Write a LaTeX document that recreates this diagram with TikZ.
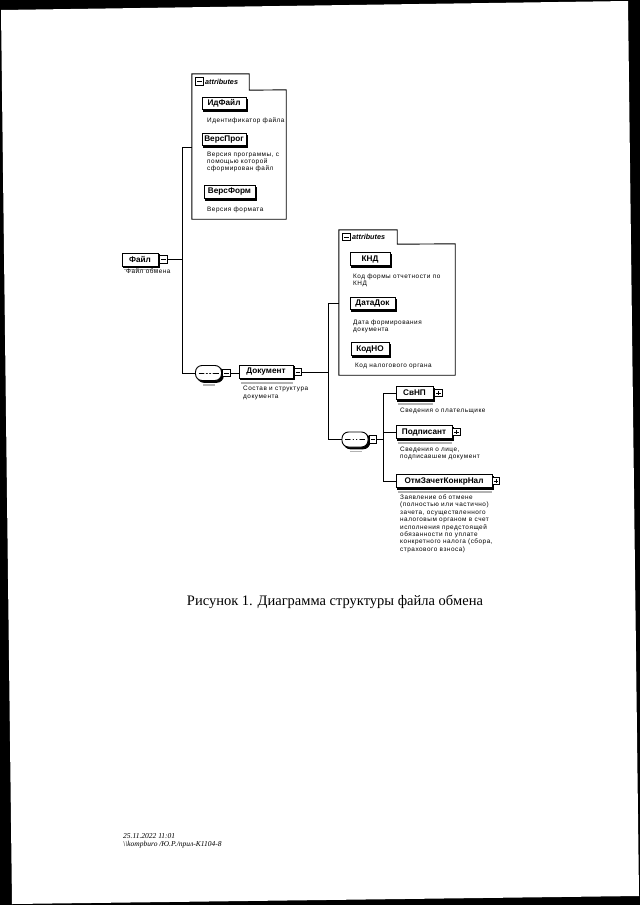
\documentclass[tikz,border=0pt]{standalone}
\usepackage{fontspec}
\setmainfont{Liberation Serif}
\setsansfont{Liberation Sans}
\newcommand\dfont{\sffamily\fontsize{6.4}{7.4}\selectfont\addfontfeature{LetterSpace=8}}
\begin{document}
\begin{tikzpicture}[x=1pt,y=-1pt,
  shad/.style={preaction={draw=black,fill=black,line width=0.9pt,transform canvas={xshift=1.8pt,yshift=-1.8pt}}},
  el/.style={draw,line width=0.9pt,fill=white,shad,inner sep=0pt,minimum height=13pt,
    font=\sffamily\bfseries\fontsize{8.2}{9}\selectfont},
  attel/.style={el,minimum height=12.5pt},
  desc/.style={anchor=north west,inner sep=0pt,align=left,font=\dfont},
  sqbox/.style={draw,fill=white,line width=0.7pt,minimum size=7.5pt,inner sep=0pt},
  minus/.style={sqbox,path picture={\draw[line width=0.7pt]
     ([xshift=1.3pt]path picture bounding box.west)--([xshift=-1.3pt]path picture bounding box.east);}},
  plus/.style={sqbox,path picture={\draw[line width=0.7pt]
     ([xshift=1.3pt]path picture bounding box.west)--([xshift=-1.3pt]path picture bounding box.east)
     ([yshift=-1.3pt]path picture bounding box.north)--([yshift=1.3pt]path picture bounding box.south);}},
  comp/.style={draw,line width=0.9pt,fill=white,rounded corners=6.5pt,minimum width=26pt,
     minimum height=15pt,inner sep=0pt,shad,
     path picture={\draw[line width=0.8pt]
       ([xshift=3pt]path picture bounding box.west)--([xshift=-3pt]path picture bounding box.east);
       \foreach \dx in {-3.4,0,3.4}{\fill ([xshift=\dx pt]path picture bounding box.center) circle (1.2pt);}}},
  con/.style={line width=1pt},
  box/.style={inner sep=0pt,draw=none},
  band/.style={fill=black!30},
]
\useasboundingbox (0,0) rectangle (640,905);
% scanned page edges
\fill[black] (0,0) rectangle (640,905);
\fill[white] (1,10) -- (628,1) -- (639,896) -- (12,904) -- cycle;

% ---- root element
\node[el,minimum width=36pt] (fajl) at (140,259.5) {Файл};
\fill[band] (124,268.5) rectangle (158,270);
\node[minus] (fsq) at (163.5,259.5) {};
\node[desc] (fajld) at (126,269) {Файл обмена};

% ---- attributes 1
\node[box,minimum width=57pt,minimum height=16pt] (a1tab) at (220.5,82) {};
\node[box,minimum width=94pt,minimum height=129pt] (a1) at (239,154.5) {};
\draw[line width=0.9pt,fill=white] (a1tab.north west) -- (a1tab.north east) -- (a1tab.south east)
  -- (a1.north east) -- (a1.south east) -- (a1.south west) -- cycle;
\node[minus] (a1m) at (199.5,81.5) {};
\node[anchor=west,inner sep=0pt,font=\sffamily\bfseries\itshape\fontsize{7.2}{7.5}\selectfont] (a1lab) at (205,81.5) {attributes};

\node[attel,minimum width=44pt] (idf) at (224,103.5) {ИдФайл};
\node[desc] (idfd) at (207,117.5) {Идентификатор файла};
\node[attel,minimum width=44pt] (vprog) at (224,139.5) {ВерсПрог};
\node[desc] (vprogd) at (207,151.5) {Версия программы, с\\помощью которой\\сформирован файл};
\node[attel,minimum width=51pt] (vform) at (229.5,192) {ВерсФорм};
\node[desc] (vformd) at (207,206.5) {Версия формата};

% ---- sequence
\node[comp] (seq) at (208.5,373) {};
\fill[band] (203,384) rectangle (215,385.5);
\node[minus] (seqsq) at (226.5,373) {};

% ---- Документ
\node[el,minimum width=54pt] (dok) at (266,371.5) {Документ};
\fill[band] (241,382) rectangle (293,384);
\node[minus] (dsq) at (298,372) {};
\node[desc] (dokd) at (243,386) {Состав и структура\\документа};

% ---- attributes 2
\node[box,minimum width=58pt,minimum height=14pt] (a2tab) at (368,237) {};
\node[box,minimum width=116pt,minimum height=131pt] (a2) at (397,309.5) {};
\draw[line width=0.9pt,fill=white] (a2tab.north west) -- (a2tab.north east) -- (a2tab.south east)
  -- (a2.north east) -- (a2.south east) -- (a2.south west) -- cycle;
\node[minus] (a2m) at (346.5,237) {};
\node[anchor=west,inner sep=0pt,font=\sffamily\bfseries\itshape\fontsize{7.2}{7.5}\selectfont] (a2lab) at (352,237) {attributes};

\node[attel,minimum width=40pt] (knd) at (370,259) {КНД};
\node[desc] (kndd) at (353,273.5) {Код формы отчетности по\\КНД};
\node[attel,minimum width=45pt] (datad) at (372.5,303.5) {ДатаДок};
\node[desc] (datadd) at (353,319.5) {Дата формирования\\документа};
\node[attel,minimum width=38pt] (kodno) at (370,349) {КодНО};
\node[desc] (kodnod) at (355,362.5) {Код налогового органа};

% ---- choice
\node[comp] (ch) at (355,439.5) {};
\fill[band] (350,450.5) rectangle (362,452);
\node[minus] (chsq) at (373,439.5) {};

% ---- children
\node[el,minimum width=37pt] (svnp) at (414.5,393) {СвНП};
\fill[band] (398,403) rectangle (433,404.5);
\node[plus] (svsq) at (438.5,393) {};
\node[desc] (svnpd) at (400,407.5) {Сведения о плательщике};

\node[el,minimum width=56pt] (podp) at (424,432) {Подписант};
\fill[band] (398,442) rectangle (452,443.5);
\node[plus] (posq) at (456.5,432) {};
\node[desc] (podpd) at (400,446.5) {Сведения о лице,\\подписавшем документ};

\node[el,minimum width=96pt] (otm) at (444,481) {ОтмЗачетКонкрНал};
\fill[band] (398,491) rectangle (492,492.5);
\node[plus] (otsq) at (496,481) {};
\node[desc] (otmd) at (400,494.5) {Заявление об отмене\\(полностью или частично)\\зачета, осуществленного\\налоговым органом в счет\\исполнения предстоящей\\обязанности по уплате\\конкретного налога (сбора,\\страхового взноса)};

% ---- connectors
\coordinate (b1) at (182,259.5);
\coordinate (b1t) at (182,147);
\coordinate (b1b) at (182,373);
\draw[con] (fsq.east) -- (b1);
\draw[con] (b1t) -- (b1b);
\draw[con] (b1t) -- (b1t -| a1.west);
\draw[con] (b1b) -- (seq.west);
\draw[con] (seqsq.east) -- (seqsq.east -| dok.west);

\coordinate (b2) at (328,372);
\coordinate (b2t) at (328,303);
\coordinate (b2b) at (328,439.5);
\draw[con] (dsq.east) -- (b2);
\draw[con] (b2t) -- (b2b);
\draw[con] (b2t) -- (b2t -| a2.west);
\draw[con] (b2b) -- (ch.west);

\coordinate (b3) at (383,439.5);
\coordinate (b3t) at (383,393);
\coordinate (b3b) at (383,481);
\draw[con] (chsq.east) -- (b3);
\draw[con] (b3t) -- (b3b);
\draw[con] (b3t) -- (svnp.west);
\draw[con] (b3 |- podp.west) -- (podp.west);
\draw[con] (b3b) -- (otm.west);

% ---- caption and footer
\node[font=\fontsize{14.5}{16}\selectfont,inner sep=0pt] (cap) at (335,602) {Рисунок 1. Диаграмма структуры файла обмена};
\node[anchor=west,inner sep=0pt,font=\itshape\fontsize{7.5}{8}\selectfont] (ft1) at (123,836) {25.11.2022 11:01};
\node[anchor=west,inner sep=0pt,font=\itshape\fontsize{7.5}{8}\selectfont] (ft2) at (123,845) {\textbackslash\textbackslash kompburo /Ю.Р./прил-К1104-8};
\end{tikzpicture}
\end{document}
